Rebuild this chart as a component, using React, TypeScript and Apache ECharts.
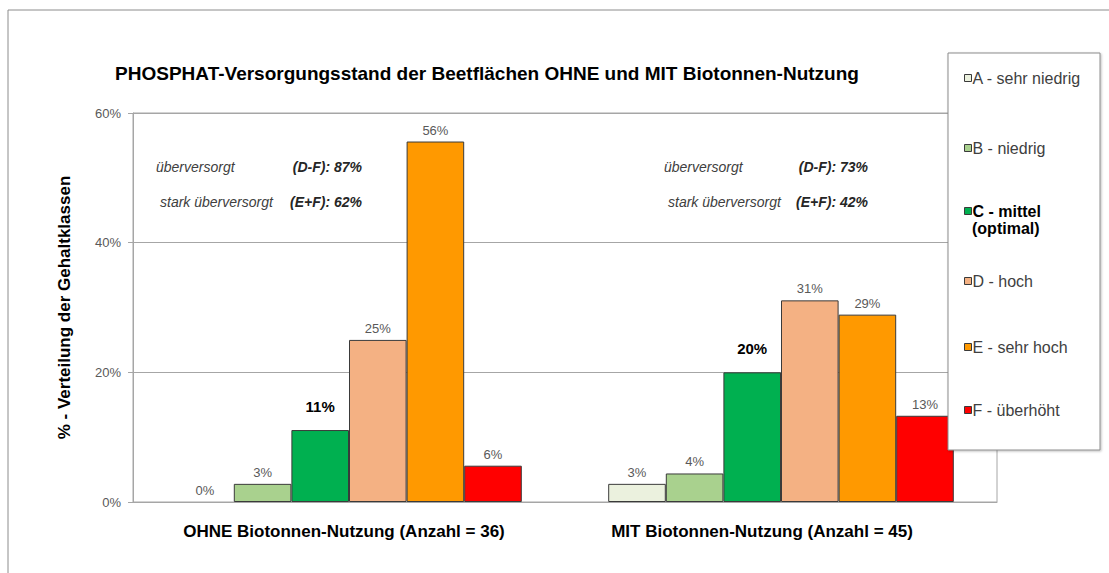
import React, { useEffect, useRef } from "react";
import * as echarts from "echarts";

const categories = [
  "OHNE Biotonnen-Nutzung (Anzahl = 36)",
  "MIT Biotonnen-Nutzung (Anzahl = 45)",
];
const classNames = [
  "A - sehr niedrig",
  "B - niedrig",
  "C - mittel",
  "D - hoch",
  "E - sehr hoch",
  "F - überhöht",
];
const valuesA = [0, 2.8];
const valuesB = [2.8, 4.4];
const valuesC = [11.1, 20.0];
const valuesD = [25.0, 31.1];
const valuesE = [55.6, 28.9];
const valuesF = [5.6, 13.3];
const yTicks = [0, 20, 40, 60];
const title = "PHOSPHAT-Versorgungsstand der Beetflächen OHNE und MIT Biotonnen-Nutzung";
const yName = "% - Verteilung der Gehaltklassen";
const notesOhne = [
  ["überversorgt", "(D-F): 87%"],
  ["stark überversorgt", "(E+F): 62%"],
];
const notesMit = [
  ["überversorgt", "(D-F): 73%"],
  ["stark überversorgt", "(E+F): 42%"],
];

const colors = ["#EBF1DE", "#A9D18E", "#00B050", "#F4B183", "#FF9900", "#FF0000"];
const FONT = "'Liberation Sans', Arial, sans-serif";

export default function App() {
  const ref = useRef<HTMLDivElement>(null);
  useEffect(() => {
    if (!ref.current) return;
    const chart = echarts.init(ref.current, null, { renderer: "svg" });
    const allValues = [valuesA, valuesB, valuesC, valuesD, valuesE, valuesF];
    const series = classNames.map((name, i) => {
      const isC = i === 2;
      return {
        name,
        type: "bar",
        data: allValues[i].map((v) => ({
          value: v,
          itemStyle: v === 0 ? { borderWidth: 0 } : undefined,
        })),
        barGap: "0%",
        barCategoryGap: "20%",
        itemStyle: { color: colors[i], borderColor: "#3a3a3a", borderWidth: 1 },
        label: {
          show: true,
          position: "top",
          distance: isC ? 16 : 5,
          formatter: (p: any) => Math.round(p.value) + "%",
          fontFamily: FONT,
          fontSize: isC ? 15 : 13,
          fontWeight: isC ? "bold" : "normal",
          color: isC ? "#000" : "#595959",
        },
        z: 2,
      };
    });

    const legendTops = [65, 135, 198, 268, 334, 397];
    const legends = classNames.map((name, i) => ({
      data: [name],
      left: 959,
      top: legendTops[i],
      orient: "vertical",
      itemWidth: 7,
      itemHeight: 7,
      icon: "rect",
      itemGap: 3,
      selectedMode: false,
      z: 110,
      itemStyle: { borderColor: "#3a3a3a", borderWidth: 1 },
      textStyle: {
        fontFamily: FONT,
        fontSize: 16,
        lineHeight: 16,
        color: i === 2 ? "#000" : "#404040",
        fontWeight: i === 2 ? "bold" : "normal",
        padding: [0, 0, 0, -4],
      },
    }));

    const noteTexts: any[] = [];
    const addNotes = (notes: string[][], leftX: number, rightX: number) => {
      const ys = [167, 202];
      notes.forEach((n, k) => {
        noteTexts.push({
          type: "text",
          x: leftX + (k === 1 ? 4 : 0),
          y: ys[k],
          z: 50,
          style: {
            text: n[0],
            fontFamily: FONT,
            fontSize: 14,
            fontStyle: "italic",
            fill: "#404040",
            textAlign: "left",
            textVerticalAlign: "middle",
          },
        });
        noteTexts.push({
          type: "text",
          x: rightX,
          y: ys[k],
          z: 50,
          style: {
            text: n[1],
            fontFamily: FONT,
            fontSize: 14,
            fontStyle: "italic",
            fontWeight: "bold",
            fill: "#262626",
            textAlign: "right",
            textVerticalAlign: "middle",
          },
        });
      });
    };
    addNotes(notesOhne, 156, 362);
    addNotes(notesMit, 664, 868);

    const catLabelStyle = {
      fontFamily: FONT,
      fontSize: 17,
      fontWeight: "bold",
      color: "#000",
    };

    chart.setOption({
      animation: false,
      backgroundColor: "#fff",
      title: {
        text: title,
        left: 482,
        top: 59,
        textAlign: "center",
        textStyle: { fontFamily: FONT, fontSize: 19, fontWeight: "bold", color: "#000" },
      },
      legend: legends,
      grid: {
        left: 133,
        top: 113,
        right: 112,
        bottom: 71,
        show: true,
        borderColor: "#a6a6a6",
        borderWidth: 1,
      },
      xAxis: {
        type: "category",
        data: categories,
        axisTick: { show: false },
        axisLine: { lineStyle: { color: "#a6a6a6", width: 1 } },
        axisLabel: {
          interval: 0,
          hideOverlap: false,
          margin: 21,
          ...catLabelStyle,
          formatter: (v: string, idx: number) => (idx === 0 ? "{a|" + v + "}" : "{b|" + v + "}"),
          rich: {
            a: { ...catLabelStyle, padding: [0, 10, 0, 0] },
            b: { ...catLabelStyle, padding: [0, 38, 0, 0] },
          },
        },
      },
      yAxis: {
        type: "value",
        min: yTicks[0],
        max: yTicks[yTicks.length - 1],
        interval: yTicks[1] - yTicks[0],
        name: yName,
        nameLocation: "middle",
        nameGap: 60,
        nameTextStyle: { fontFamily: FONT, fontSize: 17, fontWeight: "bold", color: "#000" },
        axisLine: { show: true, lineStyle: { color: "#a6a6a6" } },
        axisTick: { show: true, length: 5, lineStyle: { color: "#a6a6a6" } },
        splitLine: { lineStyle: { color: "#a6a6a6", width: 1 } },
        axisLabel: {
          formatter: "{value}%",
          margin: 12,
          fontFamily: FONT,
          fontSize: 13,
          color: "#595959",
        },
      },
      series,
      graphic: [
        {
          type: "rect",
          shape: { x: 8, y: 10, width: 1300, height: 800 },
          style: { fill: "none", stroke: "#8c8c8c", lineWidth: 1 },
          z: 1,
          silent: true,
        },
        {
          type: "rect",
          shape: { x: 948, y: 53, width: 152, height: 397 },
          style: {
            fill: "#fff",
            stroke: "#8c8c8c",
            lineWidth: 1,
            shadowBlur: 2,
            shadowOffsetX: 1,
            shadowOffsetY: 1,
            shadowColor: "rgba(0,0,0,0.25)",
          },
          z: 100,
        },
        {
          type: "text",
          x: 972,
          y: 228,
          z: 110,
          style: {
            text: "(optimal)",
            fontFamily: FONT,
            fontSize: 16,
            lineHeight: 16,
            fontWeight: "bold",
            fill: "#000",
            textVerticalAlign: "middle",
          },
        },
        ...noteTexts,
      ],
    });
    return () => chart.dispose();
  }, []);
  return (
    <div
      ref={ref}
      style={{ position: "fixed", left: 0, top: 0, width: 1109, height: 573 }}
    />
  );
}
